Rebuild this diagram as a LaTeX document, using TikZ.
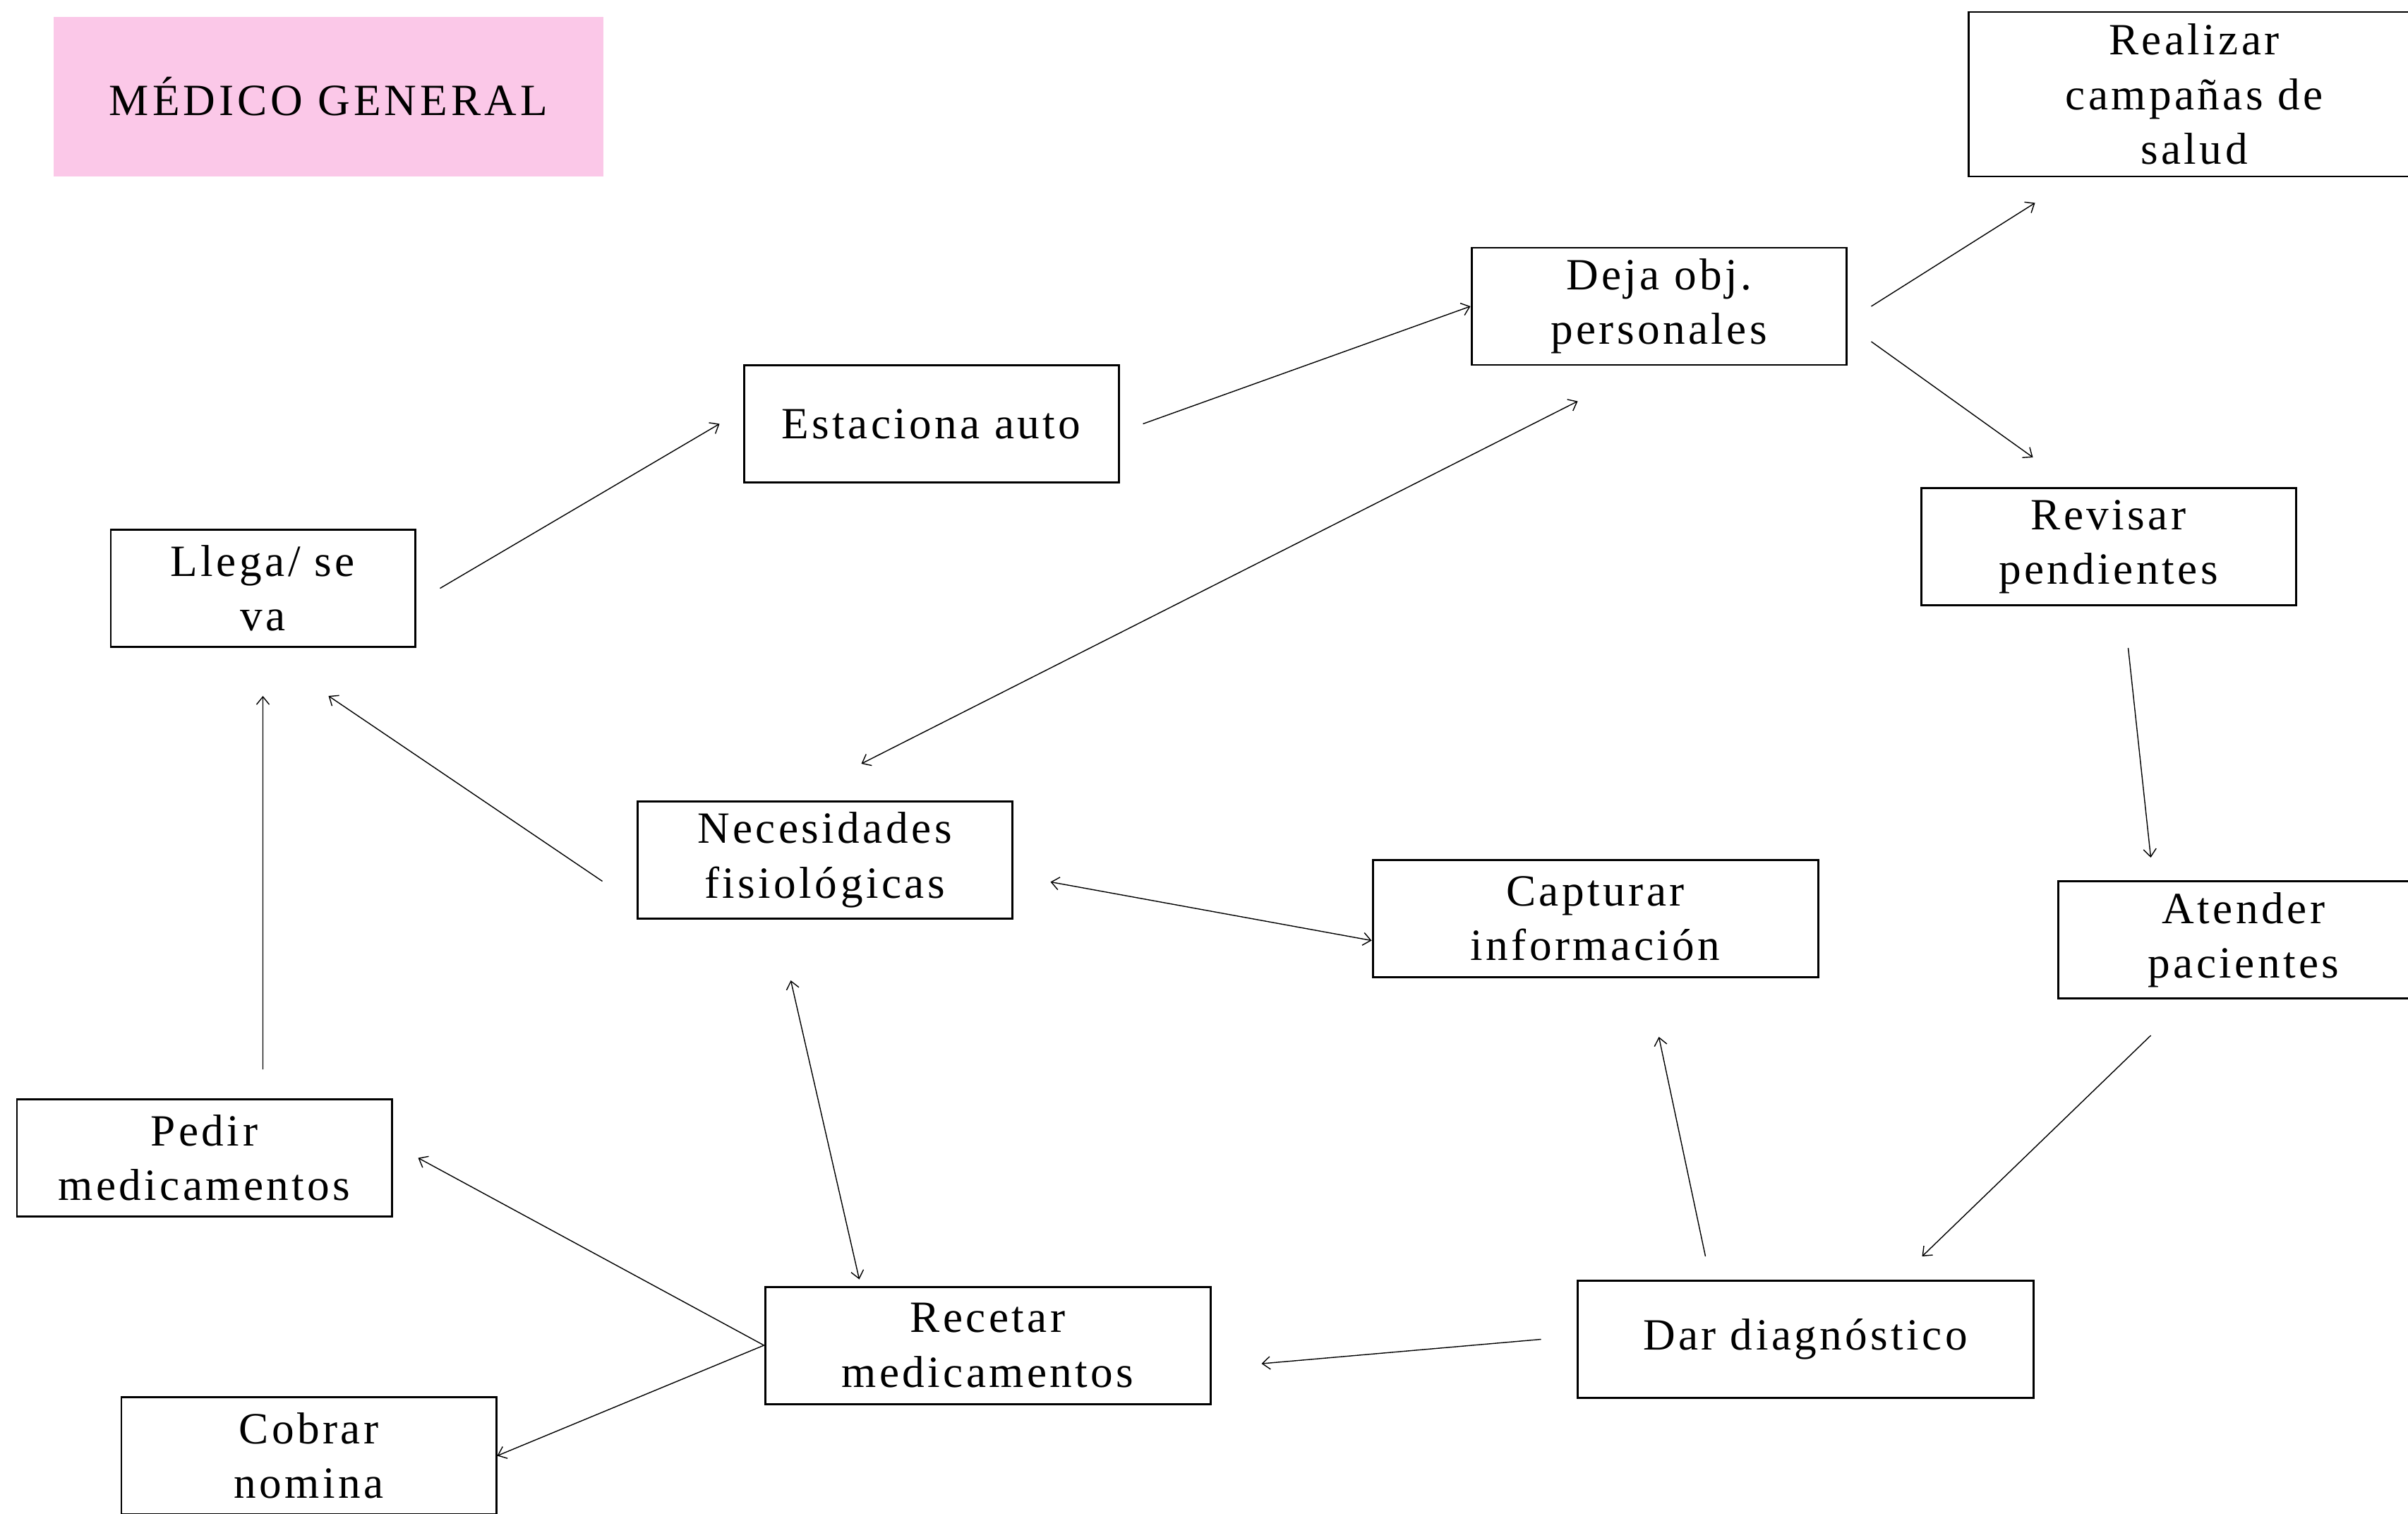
\documentclass[tikz,border=0pt]{standalone}
\usepackage{fontspec}
\setmainfont{Liberation Serif}[LetterSpace=7]
\newfontfamily\titlefont{Liberation Serif}[LetterSpace=8]
\usetikzlibrary{arrows.meta, positioning}
\definecolor{cPink}{RGB}{251,200,232}
\tikzset{
	actividad/.style={rectangle, draw=black, line width=0.85pt, minimum width=5.31cm, minimum height=1.66cm, inner sep=0pt, align=center, font=\fontsize{18}{22}\selectfont},
	titulo/.style={rectangle, fill=cPink, minimum width=7.79cm, minimum height=2.26cm, font=\titlefont\fontsize{18}{22}\selectfont},
	flecha/.style={-{Straight Barb[length=1.1mm, width=1.8mm]}, line width=0.4pt},
	doble/.style={{Straight Barb[length=1.1mm, width=1.8mm]}-{Straight Barb[length=1.1mm, width=1.8mm]}, line width=0.4pt},
}
\begin{document}
\begin{tikzpicture}
	\useasboundingbox (0,0) rectangle (34.12,-21.45);
	\node[titulo] (tit) at (4.655,-1.37) {MÉDICO GENERAL};
	% actividades
	\node[actividad, minimum width=6.40cm, minimum height=2.33cm] (realizar) at (31.09,-1.335) {Realizar\\campañas de\\salud};
	\node[actividad] (deja) at (23.505,-4.34) {Deja obj.\\personales};
	\node[actividad] (estaciona) at (13.195,-6.005) {Estaciona auto};
	\node[actividad, minimum width=4.31cm] (llega) at (3.725,-8.335) {Llega/ se\\va};
	\node[actividad] (revisar) at (29.875,-7.745) {Revisar\\pendientes};
	\node[actividad] (necesidades) at (11.685,-12.185) {Necesidades\\fisiológicas};
	\node[actividad, minimum width=6.31cm] (capturar) at (22.605,-13.015) {Capturar\\información};
	\node[actividad, minimum width=5.26cm] (atender) at (31.79,-13.315) {Atender\\pacientes};
	\node[actividad] (pedir) at (2.895,-16.405) {Pedir\\medicamentos};
	\node[actividad, minimum width=6.31cm] (recetar) at (13.995,-19.06) {Recetar\\medicamentos};
	\node[actividad, minimum width=6.46cm] (dar) at (25.58,-18.975) {Dar diagnóstico};
	\node[actividad] (cobrar) at (4.375,-20.625) {Cobrar\\nomina};
	% flechas
	\draw[flecha] ([xshift=0.34cm]llega.east) -- ([xshift=-0.33cm]estaciona.west);
	\draw[flecha] ([xshift=0.33cm]estaciona.east) -- (deja.west);
	\draw[flecha] ([xshift=0.34cm]deja.east) -- ([shift={(0.96,-0.36)}]realizar.south west);
	\draw[flecha] ([shift={(0.34,-0.50)}]deja.east) -- ([shift={(1.60,0.42)}]revisar.north west);
	\draw[flecha] ([shift={(0.28,-0.59)}]revisar.south) -- ([shift={(1.33,0.32)}]atender.north west);
	\draw[flecha] ([shift={(1.33,-0.51)}]atender.south west) -- ([shift={(-1.59,0.33)}]dar.north east);
	\draw[flecha] ([shift={(1.83,0.33)}]dar.north west) -- ([shift={(0.9,-0.83)}]capturar.south);
	\draw[doble] ([shift={(0.53,-0.31)}]necesidades.east) -- ([yshift=-0.31cm]capturar.west);
	\draw[doble] ([shift={(0.52,0.52)}]necesidades.north) -- ([shift={(-1.15,-0.50)}]deja.south);
	\draw[flecha] ([shift={(-0.48,-0.30)}]necesidades.west) -- ([shift={(0.93,-0.68)}]llega.south);
	\draw[flecha] ([shift={(0.83,0.41)}]pedir.north) -- ([yshift=-0.68cm]llega.south);
	\draw[doble] ([shift={(-0.48,-0.86)}]necesidades.south) -- ([shift={(1.35,0.09)}]recetar.north west);
	\draw[flecha] ([xshift=-0.5cm]dar.west) -- ([shift={(0.71,-0.26)}]recetar.east);
	\draw[flecha] (recetar.west) -- ([xshift=0.36cm]pedir.east);
	\draw[flecha] (recetar.west) -- (cobrar.east);
\end{tikzpicture}
\end{document}
